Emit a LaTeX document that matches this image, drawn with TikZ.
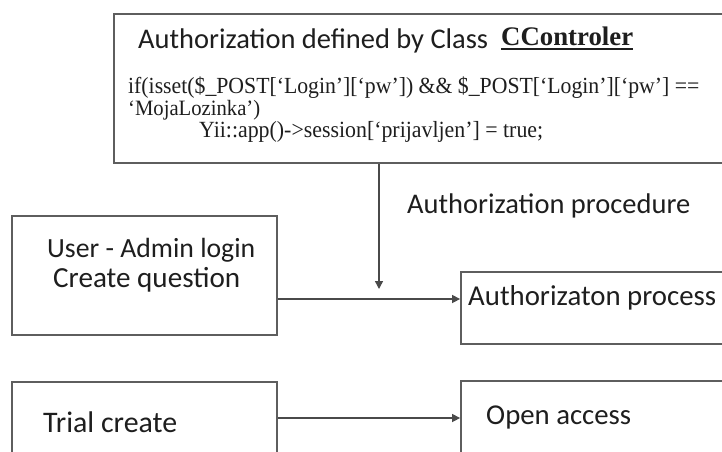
\documentclass[tikz,border=0pt]{standalone}
\usepackage{fontspec}
\usepackage{graphicx}
\setmainfont{Carlito}
\newfontfamily\codefont{Liberation Serif}
\usetikzlibrary{arrows.meta}
\definecolor{boxgray}{HTML}{5E5E5E}
\definecolor{linecol}{HTML}{4A4A4A}
\definecolor{txtcol}{HTML}{1E1E1E}
\newcommand\fitto[2]{\resizebox{#1pt}{!}{#2}}
\newcommand\fitcode[2]{\scalebox{1}[1.06]{\resizebox{#1pt}{!}{\codefont #2}}}
\tikzset{
  box/.style={draw=boxgray, line width=1.8pt, rectangle, inner sep=0pt},
  txt/.style={anchor=base west, inner sep=0pt, text=txtcol},
  arr/.style={draw=linecol, line width=1.4pt, -{Triangle[length=8pt,width=8pt]}}
}
\begin{document}
\begin{tikzpicture}[x=1pt,y=-1pt]
\useasboundingbox (0,0) rectangle (722,451);
\clip (0,0) rectangle (722,451);
\fill[white] (0,0) rectangle (722,451);
% boxes
\node[box, minimum width=621pt, minimum height=149pt] (top) at (424.5,88.5) {};
\node[box, minimum width=265pt, minimum height=119pt] (user) at (144.5,275.5) {};
\node[box, minimum width=274pt, minimum height=72pt] (ap) at (598,308) {};
\node[box, minimum width=265pt, minimum height=88pt] (trial) at (144.5,426) {};
\node[box, minimum width=274pt, minimum height=89pt] (open) at (598,425.5) {};
% texts in top box
\node[txt] (title) at (138,48) {\fitto{350}{Authorization defined by Class}};
\node[txt] (cc) at (501,45) {\fitto{132}{\codefont\bfseries\underline{CControler}}};
\node[txt] (code1) at (128,93.5) {\fitcode{571}{if(isset(\$\_POST[‘Login’][‘pw’]) \&\& \$\_POST[‘Login’][‘pw’] ==}};
\node[txt] (code2) at (128,115.5) {\fitcode{132}{‘MojaLozinka’)}};
\node[txt] (code3) at (199,137) {\fitcode{344}{Yii::app()->session[‘prijavljen’] = true;}};
% other texts
\node[txt] (proc) at (407,213) {\fitto{283}{Authorization procedure}};
\node[txt] (u1) at (47,257) {\fitto{208}{User - Admin login}};
\node[txt] (u2) at (53,287) {\fitto{187}{Create question}};
\node[txt] (aptxt) at (468,305) {\fitto{248}{Authorizaton process}};
\node[txt] (trtxt) at (43,432) {\fitto{134}{Trial create}};
\node[txt] (optxt) at (486,424) {\fitto{145}{Open access}};
% connectors
\coordinate (vtip) at (379,289);
\draw[arr] (vtip |- top.south) -- (vtip);
\coordinate (ua) at (277,299);
\draw[arr] (ua -| user.east) -- (ua -| ap.west);
\coordinate (ta) at (277,418);
\draw[arr] (ta -| trial.east) -- (ta -| open.west);
\end{tikzpicture}
\end{document}
